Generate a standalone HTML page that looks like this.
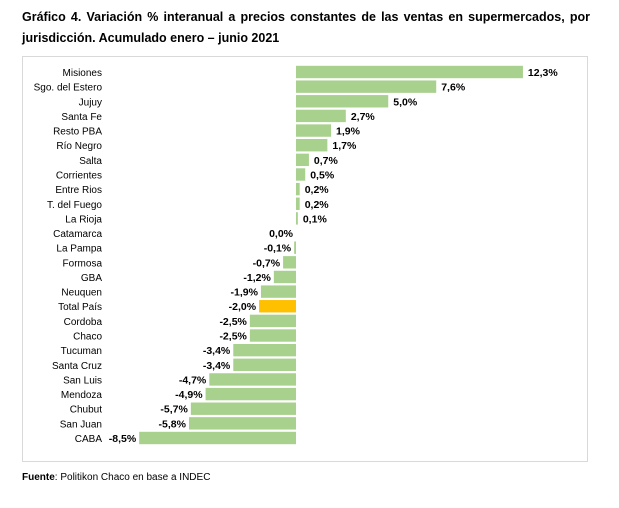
<!DOCTYPE html>
<html><head><meta charset="utf-8"><style>
body{margin:0;background:#fff;width:619px;height:508px;overflow:hidden;font-family:"Liberation Sans",Arial,sans-serif}
.t{position:absolute;left:22px;width:568px;font-weight:bold;font-size:12.5px;color:#000;text-align:justify;text-align-last:justify}
</style></head><body>
<div class="t" style="top:10px">Gráfico 4. Variación % interanual a precios constantes de las ventas en supermercados, por</div>
<div class="t" style="top:31px;text-align-last:left">jurisdicción. Acumulado enero – junio 2021</div>
<svg width="619" height="508" style="position:absolute;left:0;top:0" font-family="Liberation Sans, Arial, sans-serif">
<rect x="22.5" y="56.5" width="565" height="405" fill="none" stroke="#d9d9d9"/>
<g id="g"></g>
<text x="22" y="480" font-size="10"><tspan font-weight="bold">Fuente</tspan>: Politikon Chaco en base a INDEC</text>
</svg>
<script>
var d=[["Misiones",12.3],["Sgo. del Estero",7.6],["Jujuy",5.0],["Santa Fe",2.7],["Resto PBA",1.9],["Río Negro",1.7],["Salta",0.7],["Corrientes",0.5],["Entre Rios",0.2],["T. del Fuego",0.2],["La Rioja",0.1],["Catamarca",0.0],["La Pampa",-0.1],["Formosa",-0.7],["GBA",-1.2],["Neuquen",-1.9],["Total País",-2.0],["Cordoba",-2.5],["Chaco",-2.5],["Tucuman",-3.4],["Santa Cruz",-3.4],["San Luis",-4.7],["Mendoza",-4.9],["Chubut",-5.7],["San Juan",-5.8],["CABA",-8.5]];
var z=296,s=18.45,h="",y0=72,st=14.64;
d.forEach(function(r,i){var c=y0+i*st,v=r[1],w=Math.abs(v)*s,x=v<0?z-w:z;
h+='<text x="102" y="'+(c+4)+'" font-size="10" text-anchor="end">'+r[0]+'</text>';
h+='<rect x="'+x+'" y="'+(c-6.2)+'" width="'+w+'" height="12.4" fill="'+(r[0]=="Total País"?"#FFC000":"#A9D18E")+'"/>';
var l=(v<0?"-":"")+Math.abs(v).toFixed(1).replace(".",",")+"%";
if(v>0)h+='<text x="'+(z+w+5)+'" y="'+(c+4)+'" font-size="10.5" font-weight="bold">'+l+'</text>';
else h+='<text x="'+(x-3)+'" y="'+(c+4)+'" font-size="10.5" font-weight="bold" text-anchor="end">'+l+'</text>';});
document.getElementById("g").innerHTML=h;
</script>
</body></html>
